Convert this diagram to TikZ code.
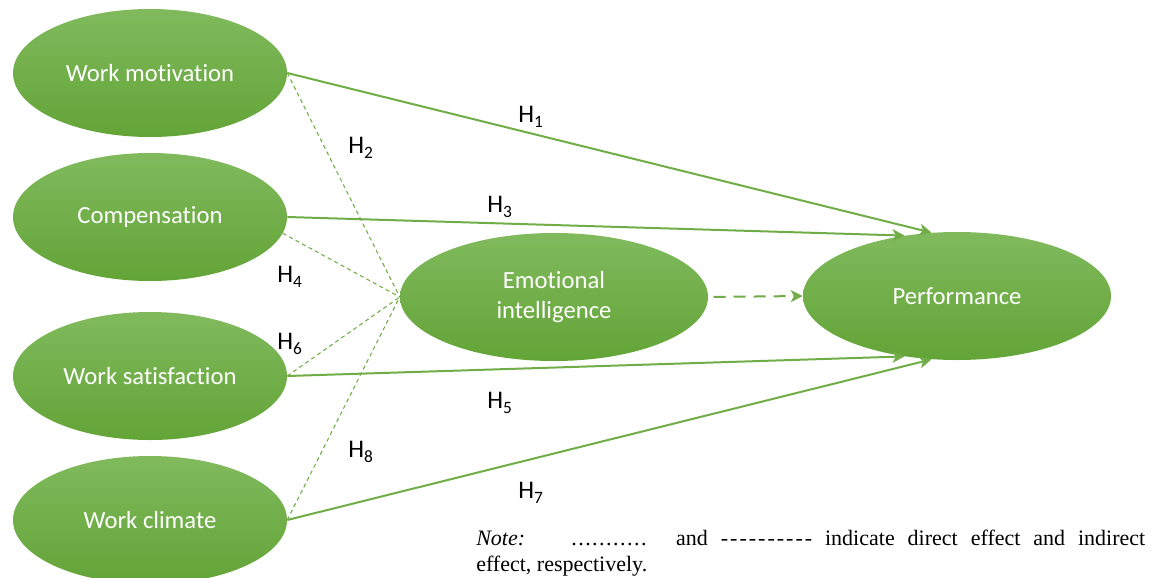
\documentclass[tikz,border=0pt]{standalone}
\usepackage{fontspec}
\setmainfont{Carlito}[Ligatures=NoCommon]
\newfontfamily\notefont{Liberation Serif}
\usetikzlibrary{shapes.geometric,arrows.meta}
\definecolor{gline}{RGB}{112,173,71}
\definecolor{gtop}{RGB}{128,186,93}
\definecolor{gbot}{RGB}{99,164,55}
\newcommand\hlab[1]{H\raisebox{-4pt}{\fontsize{13}{13}\selectfont #1}}
\newcommand\hy{-\kern1.5pt}
\newcommand\dt{.\kern1.1pt}
\begin{document}
\begin{tikzpicture}[x=0.75pt,y=-0.75pt,
  var/.style={ellipse, draw=none, top color=gtop, bottom color=gbot,
    minimum width=205.5pt, minimum height=96pt, inner sep=0pt,
    text=white, font=\fontsize{18.5}{22}\selectfont, align=center},
  bigvar/.style={var, minimum width=231pt},
  direct/.style={draw=gline, line width=1.5pt, -{Stealth[length=9pt,width=9pt,inset=2.5pt]}},
  indirect/.style={draw=gline, line width=0.8pt, dash pattern=on 3pt off 2.5pt},
  medarrow/.style={draw=gline, line width=1.5pt, dash pattern=on 9pt off 6pt, -{Stealth[length=9pt,width=9pt,inset=2.5pt]}},
  hl/.style={anchor=base west, inner sep=0pt, font=\fontsize{19}{19}\selectfont}
]
\useasboundingbox (0,0) rectangle (1153,578);
\clip (0,0) rectangle (1153,578);

\node[var] (wm) at (150,73) {Work motivation};
\node[var] (co) at (150,217) {Compensation};
\node[var] (ws) at (150,376) {Work satisfaction};
\node[var] (wc) at (150,520) {Work climate};
\node[bigvar] (ei) at (554,297) {Emotional\\intelligence};
\node[bigvar] (pf) at (957,296) {Performance};

% indirect (thin dashed) paths to EI
\draw[indirect] (wm.east) -- (ei.west);
\draw[indirect] (co.-7) -- (ei.west);
\draw[indirect] (ws.east) -- (ei.west);
\draw[indirect] (wc.east) -- (ei.west);

% direct paths
\draw[direct] (wm.east) -- (pf.112);
\draw[direct] (co.east) -- (pf.131);
\draw[direct] (ws.east) -- (pf.229);
\draw[direct] (wc.east) -- (pf.248);

% EI -> Performance
\draw[medarrow, shorten <=4pt] (ei.east) -- (pf.west);

% labels
\node[hl] (h1) at (518,122) {\hlab{1}};
\node[hl] (h2) at (348,153) {\hlab{2}};
\node[hl] (h3) at (487,212) {\hlab{3}};
\node[hl] (h4) at (277,282) {\hlab{4}};
\node[hl] (h6) at (277,349) {\hlab{6}};
\node[hl] (h5) at (487,408) {\hlab{5}};
\node[hl] (h8) at (348,457) {\hlab{8}};
\node[hl] (h7) at (518,498) {\hlab{7}};

% note
\node[anchor=base west, inner sep=0pt] (note) at (476,545)
  {\parbox[t]{501.75pt}{\notefont\fontsize{16.5}{19.5}\selectfont
   \textit{Note:}\hspace*{2.1em}\dt\dt\dt\dt\dt\dt\dt\dt\dt\dt. and \hy\hy\hy\hy\hy\hy\hy\hy\hy- indicate direct effect and indirect\linebreak
   effect, respectively.}};
\end{tikzpicture}
\end{document}
